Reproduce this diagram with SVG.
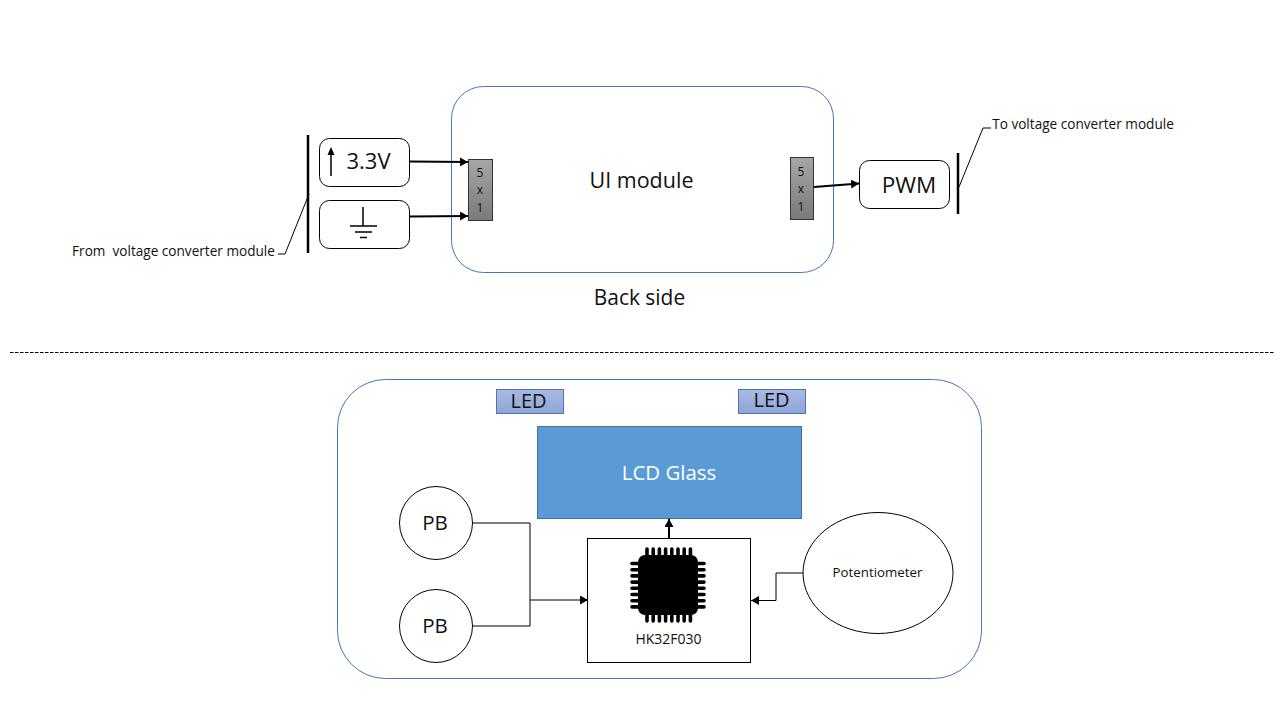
<svg xmlns="http://www.w3.org/2000/svg" width="1280" height="720" viewBox="0 0 1280 720">
<defs>
<linearGradient id="hdr" x1="0" y1="0" x2="0" y2="1"><stop offset="0" stop-color="#a6a6a6"/><stop offset="1" stop-color="#7a7a7a"/></linearGradient>
<linearGradient id="led" x1="0" y1="0" x2="0" y2="1"><stop offset="0" stop-color="#a9b8e0"/><stop offset="1" stop-color="#8fa5d8"/></linearGradient>
<marker id="arr" markerUnits="userSpaceOnUse" markerWidth="9" markerHeight="9" refX="8" refY="4.500" orient="auto"><path d="M0 0L8 4.500L0 9Z" fill="#000"/></marker>
</defs>
<style>
text{font-family:"Open Sans","Noto Sans","Liberation Sans",sans-serif;fill:#111;text-anchor:middle}
.box{fill:#fff;stroke:#000;stroke-width:1}
.mod{fill:none;stroke:#4a76b5;stroke-width:1}
.hdr{fill:url(#hdr);stroke:#333;stroke-width:1}
.led{fill:url(#led);stroke:#4a76b5;stroke-width:1}
.c{fill:none;stroke:#000;stroke-width:1}
.cb{fill:none;stroke:#000;stroke-width:2;marker-end:url(#arr)}
.ca{fill:none;stroke:#000;stroke-width:1;marker-end:url(#arr)}
.bar{fill:none;stroke:#000;stroke-width:2.500}
.l{font-size:20px}.s{font-size:12px}.t{font-size:13.600px}.p{font-size:13.300px}.h{font-size:14px}
</style>
<g id="back-module"><rect class="mod" x="451.500" y="86.500" width="382" height="186" rx="32"/><text class="l" x="641.500" y="188" style="font-size:21.500px">UI module</text><text class="l" x="639.500" y="305" style="font-size:20.900px">Back side</text></g>
<g id="header-left"><rect class="hdr" x="468.500" y="159.500" width="24" height="61"/><text class="s" x="480" y="177">5</text><text class="s" x="480" y="194">x</text><text class="s" x="480" y="212">1</text></g>
<g id="header-right"><rect class="hdr" x="790.500" y="157.500" width="23" height="62"/><text class="s" x="801" y="176">5</text><text class="s" x="801" y="193">x</text><text class="s" x="801" y="211">1</text></g>
<g id="power-33"><rect class="box" x="319.500" y="138.500" width="90" height="48" rx="10"/><path d="M331 176V152" stroke="#000" stroke-width="1.500" fill="none"/><path d="M331 147L334.500 155H327.500Z" fill="#000"/><text class="l" x="368.500" y="169" style="font-size:22px">3.3V</text></g>
<g id="power-gnd"><rect class="box" x="319.500" y="200.500" width="90" height="48" rx="10"/><path d="M363 207V226M350 226H377M355 232H372M360 237.500H367" fill="none" stroke="#000" stroke-width="1.500"/></g>
<g id="pwm"><rect class="box" x="859.500" y="160.500" width="90" height="48" rx="10"/><text class="l" x="909" y="193" style="font-size:22.500px">PWM</text></g>
<g id="front-module"><rect class="mod" x="337.500" y="379.500" width="644" height="299" rx="48"/></g>
<g id="led-1"><rect class="led" x="496.500" y="389.500" width="67" height="24"/><text class="l" x="528.500" y="408">LED</text></g>
<g id="led-2"><rect class="led" x="738.500" y="389.500" width="67" height="24"/><text class="l" x="771.500" y="407">LED</text></g>
<g id="lcd"><rect x="537.500" y="426.500" width="264" height="92" fill="#5b9bd5" stroke="#41719c"/><text class="l" x="669" y="480" style="fill:#fff;font-size:20.400px">LCD Glass</text></g>
<g id="pb-1"><circle class="box" cx="436" cy="523" r="36.500"/><text class="l" x="435" y="530" style="font-size:20.500px">PB</text></g>
<g id="pb-2"><circle class="box" cx="436" cy="626" r="36.500"/><text class="l" x="435" y="633" style="font-size:20.500px">PB</text></g>
<g id="potentiometer"><ellipse class="box" cx="878" cy="573" rx="75" ry="60.500"/><text class="p" x="877.500" y="577">Potentiometer</text></g>
<g id="mcu"><rect class="box" x="587.500" y="538.500" width="163" height="124"/>
<rect x="638" y="555" width="60" height="60" rx="7" fill="#000"/>
<path d="M647 549V555M653.200 549V555M659.400 549V555M665.600 549V555M671.800 549V555M678 549V555M684.200 549V555M690.400 549V555M647 615V621M653.200 615V621M659.400 615V621M665.600 615V621M671.800 615V621M678 615V621M684.200 615V621M690.400 615V621M632 563.500H638M632 569.700H638M632 575.900H638M632 582.100H638M632 588.300H638M632 594.500H638M632 600.700H638M632 606.900H638M698 563.500H704M698 569.700H704M698 575.900H704M698 582.100H704M698 588.300H704M698 594.500H704M698 600.700H704M698 606.900H704" stroke="#000" stroke-width="3.600" stroke-linecap="round" fill="none"/>
<text class="h" x="668.500" y="644">HK32F030</text></g>
<g id="connectors">
<path class="cb" d="M410 161.500L468 162"/>
<path class="cb" d="M410 216.500L468 216"/>
<path class="cb" d="M814 187L859 183.500"/>
<path class="cb" d="M669 538V519"/>
<path class="ca" d="M472 523H530V600H588"/>
<path class="c" d="M472 626H530V600"/>
<path class="ca" d="M803 573H776V600.500H751"/>
<path class="bar" d="M308 135V253"/>
<path class="bar" d="M958 153V214"/>
<path class="c" d="M278 254H285L309 194"/>
<path class="c" d="M959 187L983 128H991"/>
<path d="M10 352.500H1274" fill="none" stroke="#000" stroke-width="1" stroke-dasharray="3.500 1.500"/>
</g>
<g id="labels"><text class="t" x="173.500" y="256" xml:space="preserve">From  voltage converter module</text><text class="t" x="1083" y="129">To voltage converter module</text></g>
</svg>
